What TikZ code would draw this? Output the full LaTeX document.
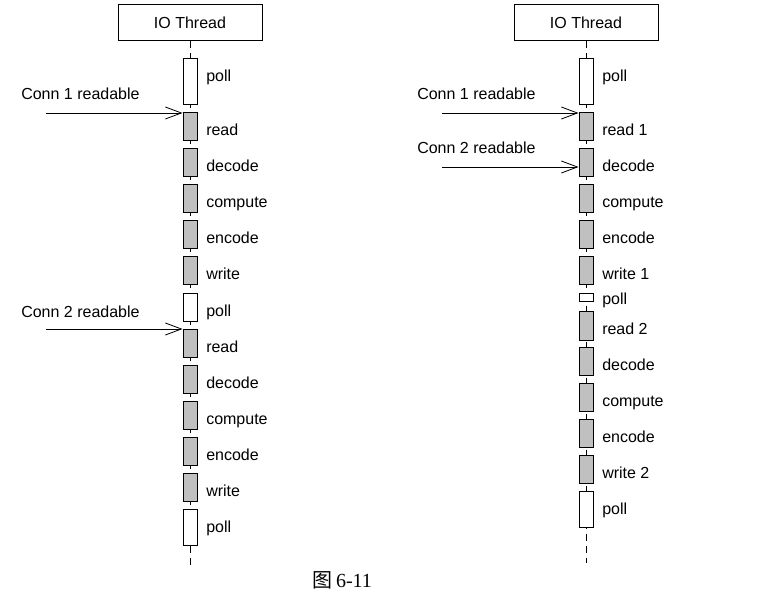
\documentclass[tikz,border=0pt]{standalone}
\usepackage{fontspec}
\setmainfont{Liberation Sans}
\newfontfamily\cjk{Noto Sans CJK SC}
\newfontfamily\capfont{Liberation Serif}
\usetikzlibrary{arrows.meta}
\definecolor{boxgray}{RGB}{192,192,192}
\begin{document}
\begin{tikzpicture}[>={Straight Barb[length=12pt,width=9pt]},x=0.75pt,y=-0.75pt,
	font=\fontsize{12}{14}\selectfont,line cap=butt,
	thread/.style={draw,line width=0.75pt,minimum width=108pt,minimum height=27pt,inner sep=0pt},
	life/.style={line width=0.75pt,dash pattern=on 5.25pt off 3.75pt},
	act/.style={draw,line width=0.75pt,minimum width=10.5pt,inner sep=0pt},
	lbl/.style={anchor=base west,inner sep=0pt},
	conn/.style={->,line width=0.6pt}]
	\useasboundingbox (0,0) rectangle (760,602);
	% left thread
	\node[thread] (lthr) at (190,23) {IO Thread};
	\coordinate (lend) at (190,565);
	\draw[life] (lthr.south) -- (lend);
	\foreach \n/\t/\h/\c/\txt/\ly in {lp1/59/46/white/poll/76, lr1/113/28/boxgray/read/130,
		ld1/149/28/boxgray/decode/166, lc1/185/28/boxgray/compute/202, le1/221/28/boxgray/encode/238,
		lw1/257/28/boxgray/write/274, lp2/293/28/white/poll/310, lr2/329/28/boxgray/read/346,
		ld2/365/28/boxgray/decode/382, lc2/401/28/boxgray/compute/418, le2/437/28/boxgray/encode/454,
		lw2/473/28/boxgray/write/490, lp3/509/36/white/poll/526}
	{
		\node[act,fill=\c,minimum height=\h*0.75pt] (\n) at (190,{\t+\h/2}) {};
		\node[lbl] (\n t) at (206,{\ly+6}) {\txt};
	}
	% right thread
	\node[thread] (rthr) at (586,23) {IO Thread};
	\coordinate (rend) at (586,563);
	\draw[life] (rthr.south) -- (rend);
	\foreach \n/\t/\h/\c/\txt/\ly in {rp1/59/46/white/poll/76, rr1/113/28/boxgray/read 1/130,
		rd1/149/28/boxgray/decode/166, rc1/185/28/boxgray/compute/202, re1/221/28/boxgray/encode/238,
		rw1/257/28/boxgray/write 1/274, rp2/293/8/white/poll/299, rr2/311/29/boxgray/read 2/328,
		rd2/347/28/boxgray/decode/364, rc2/383/28/boxgray/compute/400, re2/419/28/boxgray/encode/436,
		rw2/455/28/boxgray/write 2/472, rp3/491/36/white/poll/508}
	{
		\node[act,fill=\c,minimum height=\h*0.75pt] (\n) at (586,{\t+\h/2}) {};
		\node[lbl] (\n t) at (602,{\ly+6}) {\txt};
	}
	% connections
	\node[lbl] (lc1t) at (21,100) {Conn 1 readable};
	\node[lbl] (lc2t) at (21,317) {Conn 2 readable};
	\node[lbl] (rc1t) at (417,100) {Conn 1 readable};
	\node[lbl] (rc2t) at (417,154) {Conn 2 readable};
	\coordinate (lc1s) at (46,113);
	\coordinate (lc2s) at (46,329);
	\coordinate (rc1s) at (442,113);
	\coordinate (rc2s) at (442,167);
	\draw[conn] (lc1s) -- (lc1s -| lr1.west);
	\draw[conn] (lc2s) -- (lc2s -| lr2.west);
	\draw[conn] (rc1s) -- (rc1s -| rr1.west);
	\draw[conn] (rc2s) -- (rc2s -| rd1.west);
	% caption
	\node[font=\fontsize{15}{17}\selectfont] (cap) at (342,580) {{\cjk 图}\hspace{3pt}{\capfont 6-11}};
\end{tikzpicture}
\end{document}
